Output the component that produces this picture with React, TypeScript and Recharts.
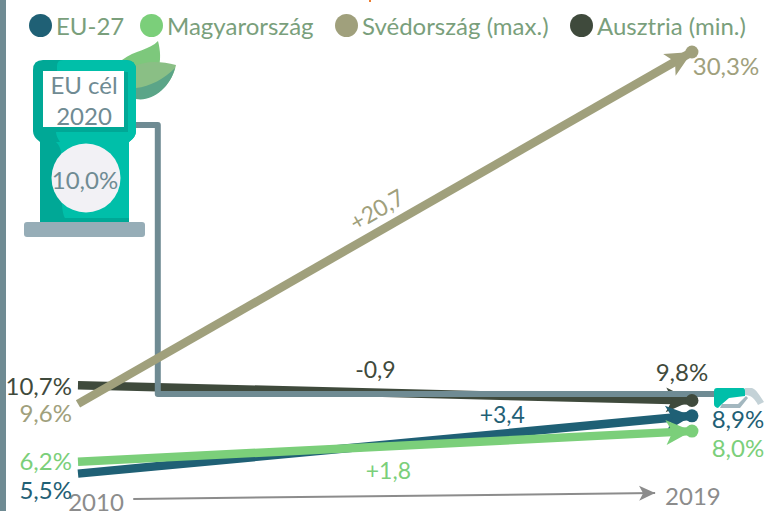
import { LineChart, Line, XAxis, YAxis, Legend, ReferenceDot } from 'recharts';

const years = [2010, 2019];
const euValues = [5.5, 8.9];
const huValues = [6.2, 8.0];
const seValues = [9.6, 30.3];
const atValues = [10.7, 9.8];

// elbow connector from the pump down to the target level
const targetX = [2010.84, 2011.17, 2011.17, 2019.34];
const targetY = [26.0, 26.0, 10.18, 10.18];
const timeX = [2010.81, 2018.46];
const timeY = [4.01, 4.36];

const legendNames = ['EU-27', 'Magyarország', 'Svédország (max.)', 'Ausztria (min.)'];
const legendColors = ['#1f6075', '#7bcf7a', '#a0a07c', '#3f4a3c'];
const legendLefts = [29, 140, 335, 570];

const toRows = (xs: number[], ys: number[]) => xs.map((x, i) => ({ x, y: ys[i] }));

const FONT = 'Lato, sans-serif';
const fmt = (v: number) => v.toFixed(1).replace('.', ',') + '%';

const EndDot = (color: string, r: number) => (p: any) => {
  if (p.index !== 1) return <g key={p.key ?? p.index} />;
  return <circle key={p.key ?? p.index} cx={p.cx} cy={p.cy} r={r} fill={color} />;
};

type Offs = { start: [number, number]; end: [number, number]; color: string };
const ValueLabel = ({ start, end, color }: Offs) => (p: any) => {
  const isStart = p.index === 0;
  const [dx, dy] = isStart ? start : end;
  return (
    <text
      key={p.index}
      x={p.x + dx}
      y={p.y + dy}
      fill={color}
      fontSize={24}
      fontFamily={FONT}
      textAnchor={isStart ? 'end' : 'middle'}
    >
      {fmt(p.value)}
    </text>
  );
};

const Arrow = ({ id, color, w = 26, h = 25 }: { id: string; color: string; w?: number; h?: number }) => (
  <marker
    id={id}
    markerUnits="userSpaceOnUse"
    markerWidth={w}
    markerHeight={h}
    refX={w}
    refY={h / 2}
    orient="auto"
    overflow="visible"
  >
    <path d={`M0,0 L${w},${h / 2} L0,${h} L${w * 0.25},${h / 2} Z`} fill={color} />
  </marker>
);

const Delta = (text: string, color: string, angle = 0) => (p: any) => (
  <text
    x={p.cx}
    y={p.cy}
    fill={color}
    fontSize={23}
    fontFamily={FONT}
    textAnchor="middle"
    dominantBaseline="middle"
    transform={angle ? `rotate(${angle} ${p.cx} ${p.cy})` : undefined}
  >
    {text}
  </text>
);

const YearTick = (p: any) => {
  const first = p.payload.value === 2010;
  return (
    <text
      x={p.x + (first ? 18 : 1)}
      y={first ? 511 : 505}
      fill="#8c8c8c"
      fontSize={24}
      fontFamily={FONT}
      textAnchor="middle"
    >
      {p.payload.value}
    </text>
  );
};

const LegendRow = () => (
  <div style={{ position: 'relative', width: 764, height: 50, fontFamily: FONT, fontSize: 24, color: '#7a9f7c' }}>
    {legendNames.map((name, i) => (
      <div key={name} style={{ position: 'absolute', left: legendLefts[i], top: 13, display: 'flex', alignItems: 'center', height: 24, whiteSpace: 'nowrap' }}>
        <span style={{ display: 'inline-block', width: 23, height: 23, borderRadius: '50%', background: legendColors[i], marginRight: 4 }} />
        {name}
      </div>
    ))}
  </div>
);

const PumpIcon = () => (
  <svg width={764} height={511} style={{ position: 'absolute', left: 0, top: 0, pointerEvents: 'none' }}>
    <rect x={0} y={0} width={6} height={511} fill="#6f8b93" />
    <rect x={369} y={0} width={2} height={2} fill="#ed7d31" />
    {/* leaves */}
    <path d="M122,60 C135,50 150,50 158,41 C163,60 160,80 140,90 Z" fill="#7dc87c" />
    <path d="M130,68 C145,60 160,61 176,65 C172,85 155,100 135,99 Z" fill="#8abf85" />
    <path d="M136,88 C150,87 165,78 175,68 C170,88 152,102 136,99 Z" fill="#5ba588" />
    {/* pump */}
    <path d="M40,135 L40,222 L129,222 L129,135 Z" fill="#00bfa9" />
    <path d="M40,135 L40,222 L68,222 C60,215 62,200 62,160 C62,145 56,138 40,135 Z" fill="#00a896" />
    <rect x={40} y={218} width={89} height={5} fill="#00a896" />
    <path d="M33,70 Q33,60 43,60 L126,60 Q136,60 136,70 L136,131 Q136,137 129,142 L40,142 Q33,137 33,131 Z" fill="#00a896" />
    <path d="M57,66 Q57,60 63,60 L126,60 Q136,60 136,70 L136,131 Q136,137 129,142 L60,142 Q56,136 56,132 L128,132 L128,72 L57,72 Z" fill="#00bfa9" />
    <rect x={43} y={71} width={81} height={56} fill="#ffffff" />
    <text x={84} y={94} textAnchor="middle" fill="#6f8b93" fontSize={24} fontFamily={FONT}>EU cél</text>
    <text x={84} y={125} textAnchor="middle" fill="#6f8b93" fontSize={24} fontFamily={FONT}>2020</text>
    <circle cx={86} cy={178} r={34.5} fill="#f2f1f5" />
    <text x={85} y={189} textAnchor="middle" fill="#6f8b93" fontSize={24} fontFamily={FONT}>10,0%</text>
    <rect x={24} y={222} width={121} height={15} rx={3} fill="#96adb7" />
    {/* nozzle */}
    <path d="M745,388 L752,388 C756,389 760,396 764,402 L758,405 C755,399 751,395 745,395 Z" fill="#c4d2d7" />
    <path d="M722,404 L738,404 L746,396 L748,398 L740,408 L720,408 Z" fill="#a3b7bf" />
    <path d="M714,391 Q714,388 717,388 L743,388 Q745,388 745,391 L745,396 L729,398 L722,404 L718,408 Q714,407 714,404 Z" fill="#00bfa9" />
  </svg>
);

export default function App() {
  return (
    <div style={{ position: 'absolute', left: 0, top: 0, width: 764, height: 511, background: '#fff', overflow: 'hidden' }}>
      <LineChart width={764} height={511} margin={{ top: 0, right: 0, bottom: 0, left: 0 }}>
        <defs>
          <Arrow id="arrow-eu" color="#1f6075" />
          <Arrow id="arrow-hu" color="#7bcf7a" />
          <Arrow id="arrow-se" color="#a0a07c" />
          <Arrow id="arrow-at" color="#3f4a3c" />
          <Arrow id="arrow-time" color="#8c8c8c" w={16} h={15} />
        </defs>
        <XAxis
          dataKey="x"
          type="number"
          domain={[2008.857, 2020.056]}
          ticks={years}
          height={1}
          axisLine={false}
          tickLine={false}
          tick={YearTick}
          interval={0}
          allowDuplicatedCategory={false}
        />
        <YAxis hide type="number" domain={[3.36, 33.36]} allowDataOverflow />
        <Legend
          layout="horizontal"
          align="center"
          verticalAlign="middle"
          wrapperStyle={{ left: 0, top: 0, width: 764 }}
          content={LegendRow}
        />

        <Line
          data={toRows(years, atValues)}
          dataKey="y"
          stroke="#3f4a3c"
          strokeWidth={8.5}
          strokeLinecap="butt"
          markerEnd="url(#arrow-at)"
          dot={EndDot('#3f4a3c', 6.5)}
          activeDot={false}
          label={ValueLabel({ start: [-6, 10], end: [-10, -20], color: '#3f4a3c' })}
          isAnimationActive={false}
        />
        <Line
          data={toRows(targetX, targetY)}
          dataKey="y"
          stroke="#6f8b93"
          strokeWidth={6}
          strokeLinecap="butt"
          strokeLinejoin="round"
          dot={false}
          activeDot={false}
          isAnimationActive={false}
        />
        <Line
          data={toRows(years, seValues)}
          dataKey="y"
          stroke="#a0a07c"
          strokeWidth={8.5}
          strokeLinecap="butt"
          markerEnd="url(#arrow-se)"
          dot={EndDot('#a0a07c', 6.5)}
          activeDot={false}
          label={ValueLabel({ start: [-6, 18], end: [34, 23], color: '#a0a07c' })}
          isAnimationActive={false}
        />
        <Line
          data={toRows(years, euValues)}
          dataKey="y"
          stroke="#1f6075"
          strokeWidth={8.5}
          strokeLinecap="butt"
          markerEnd="url(#arrow-eu)"
          dot={EndDot('#1f6075', 6.5)}
          activeDot={false}
          label={ValueLabel({ start: [-6, 25], end: [46, 12], color: '#1f6075' })}
          isAnimationActive={false}
        />
        <Line
          data={toRows(years, huValues)}
          dataKey="y"
          stroke="#7bcf7a"
          strokeWidth={8.5}
          strokeLinecap="butt"
          markerEnd="url(#arrow-hu)"
          dot={EndDot('#7bcf7a', 6.5)}
          activeDot={false}
          label={ValueLabel({ start: [-6, 8], end: [46, 26], color: '#7bcf7a' })}
          isAnimationActive={false}
        />
        <Line
          data={toRows(timeX, timeY)}
          dataKey="y"
          stroke="#8c8c8c"
          strokeWidth={2}
          strokeLinecap="butt"
          markerEnd="url(#arrow-time)"
          dot={false}
          activeDot={false}
          isAnimationActive={false}
        />

        <ReferenceDot x={2014.4} y={20.9} r={0} shape={Delta('+20,7', '#a0a07c', -30)} />
        <ReferenceDot x={2014.36} y={11.45} r={0} shape={Delta('-0,9', '#3f4a3c')} />
        <ReferenceDot x={2016.22} y={8.83} r={0} shape={Delta('+3,4', '#1f6075')} />
        <ReferenceDot x={2014.55} y={5.55} r={0} shape={Delta('+1,8', '#7bcf7a')} />
      </LineChart>
      <PumpIcon />
    </div>
  );
}
